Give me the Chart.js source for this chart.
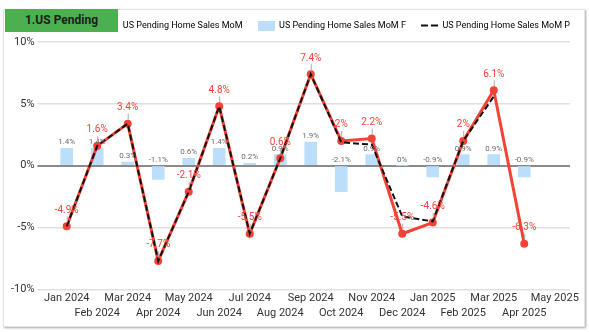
<!DOCTYPE html>
<html>
<head>
<meta charset="utf-8">
<script src="https://cdn.jsdelivr.net/npm/chart.js@4/dist/chart.umd.min.js"></script>
<style>
  html, body { margin: 0; padding: 0; background: #ffffff; }
  #wrap { position: relative; width: 589px; height: 332px; overflow: hidden; font-family: Roboto, sans-serif; }
  #card { position: absolute; left: 3px; top: 9px; width: 580px; height: 316px; border: 1px solid #e4e4e4; box-shadow: 1px 1px 2px rgba(0,0,0,0.35); background: #fff; }
  #cv { position: absolute; left: 0; top: 0; }
  #badge { position: absolute; left: 5px; top: 9px; width: 113px; height: 23px; background: #4caf50; color: #1d1d1d; font: bold 12px Roboto, sans-serif; line-height: 23px; text-align: center; }
</style>
</head>
<body>
<div id="wrap">
  <div id="card"></div>
  <canvas id="cv" width="589" height="332"></canvas>
  <div id="badge">1.US Pending</div>
</div>
<script>
const categories = ['Jan 2024','Feb 2024','Mar 2024','Apr 2024','May 2024','Jun 2024','Jul 2024','Aug 2024','Sep 2024','Oct 2024','Nov 2024','Dec 2024','Jan 2025','Feb 2025','Mar 2025','Apr 2025','May 2025'];
const momActual = [-4.9, 1.6, 3.4, -7.7, -2.1, 4.8, -5.5, 0.6, 7.4, 2, 2.2, -5.5, -4.6, 2, 6.1, -6.3, null];
const momForecast = [1.4, 1.4, 0.3, -1.1, 0.6, 1.4, 0.2, 0.9, 1.9, -2.1, 0.9, 0, -0.9, 0.9, 0.9, -0.9, null];
const momPrior = [-4.9, 1.6, 3.4, -7.7, -2.1, 4.8, -5.5, 0.6, 7.4, 1.9, 1.7, -4.1, -4.5, 2.0, 5.6, null, null];
const yTicks = [-10, -5, 0, 5, 10];
const seriesNames = ['US Pending Home Sales MoM', 'US Pending Home Sales MoM F', 'US Pending Home Sales MoM P'];

const RED = '#f44336';
const BLUE = '#bbdefb';
const LEGEND_PAD = 15;

function swatch(kind) {
  const c = document.createElement('canvas');
  c.width = 17; c.height = 10;
  const g = c.getContext('2d');
  if (kind === 'line') {
    g.fillStyle = RED; g.fillRect(0, 4, 17, 2);
  } else if (kind === 'box') {
    g.fillStyle = BLUE; g.fillRect(0, 0, 17, 10);
  } else {
    g.fillStyle = '#111'; g.fillRect(0, 4, 7, 2); g.fillRect(10, 4, 7, 2);
  }
  return c;
}
const swatches = [swatch('line'), swatch('box'), swatch('dash')];

const legendShift = {
  id: 'legendShift',
  beforeDraw(chart) {
    const lg = chart.legend;
    if (lg && !lg._shifted) {
      lg.left += LEGEND_PAD; lg.right += LEGEND_PAD;
      lg.top -= 2; lg.bottom -= 2;
      lg._shifted = true;
    }
  }
};

const labelPlugin = {
  id: 'valueLabels',
  afterDatasetsDraw(chart) {
    const ctx = chart.ctx;
    const ys = chart.scales.y;
    ctx.save();
    ctx.textAlign = 'center';
    ctx.textBaseline = 'middle';
    const barMeta = chart.getDatasetMeta(0);
    ctx.font = '8px Roboto, sans-serif';
    ctx.fillStyle = '#6b6b6b';
    barMeta.data.forEach((el, i) => {
      const v = momForecast[i];
      if (v === null || v === undefined) return;
      const top = ys.getPixelForValue(Math.max(v, 0));
      ctx.fillText(v + '%', el.x, top - 6);
    });
    const lineMeta = chart.getDatasetMeta(1);
    lineMeta.data.forEach((el, i) => {
      const v = momActual[i];
      if (v === null || v === undefined) return;
      ctx.strokeStyle = '#aaaaaa';
      ctx.lineWidth = 1;
      ctx.beginPath();
      ctx.moveTo(el.x + 0.5, el.y - 10);
      ctx.lineTo(el.x + 0.5, el.y - 4);
      ctx.stroke();
      ctx.font = '10px Roboto, sans-serif';
      ctx.fillStyle = RED;
      ctx.fillText(v + '%', el.x, el.y - 16);
    });
    ctx.restore();
  }
};

new Chart(document.getElementById('cv'), {
  data: {
    labels: categories,
    datasets: [
      { type: 'bar', label: seriesNames[1], data: momForecast, backgroundColor: BLUE, barThickness: 12, order: 3 },
      { type: 'line', label: seriesNames[0], data: momActual, borderColor: RED, backgroundColor: RED, borderWidth: 3, pointRadius: 4, pointBackgroundColor: RED, pointBorderWidth: 0, tension: 0, order: 2 },
      { type: 'line', label: seriesNames[2], data: momPrior, borderColor: '#111', borderWidth: 2, borderDash: [6, 3], pointRadius: 0, tension: 0, order: 1 }
    ]
  },
  options: {
    responsive: false,
    animation: false,
    layout: { padding: { left: 8, right: 19, top: 8, bottom: 10 } },
    plugins: {
      tooltip: { enabled: false },
      legend: {
        position: 'top',
        align: 'end',
        labels: {
          usePointStyle: true,
          pointStyleWidth: 17,
          boxHeight: 10,
          padding: LEGEND_PAD,
          color: '#333',
          font: { family: 'Roboto', size: 9 },
          generateLabels() {
            return seriesNames.map((n, i) => ({ text: n, pointStyle: swatches[i], fillStyle: 'transparent', strokeStyle: 'transparent', lineWidth: 0, datasetIndex: i === 0 ? 1 : (i === 1 ? 0 : 2) }));
          }
        }
      }
    },
    scales: {
      x: {
        offset: true,
        grid: { display: false, drawTicks: false },
        border: { display: false },
        ticks: {
          autoSkip: false,
          maxRotation: 0,
          minRotation: 0,
          color: '#333',
          padding: 2,
          font: { family: 'Roboto', size: 11, lineHeight: 1.3 },
          callback(val, i) { const l = categories[i]; return i % 2 === 0 ? [l, ''] : ['', l]; }
        }
      },
      y: {
        min: -10, max: 10,
        afterBuildTicks(scale) { scale.ticks = yTicks.map(v => ({ value: v })); },
        border: { display: false },
        grid: {
          drawTicks: true,
          tickLength: 14,
          color: ctx => (ctx.tick && ctx.tick.value === 0) ? '#8a8a8a' : '#e0e0e0',
          lineWidth: ctx => (ctx.tick && ctx.tick.value === 0) ? 2 : 1.5
        },
        ticks: {
          color: '#333',
          padding: 3,
          font: { family: 'Roboto', size: 11 },
          callback: v => v + '%'
        }
      }
    }
  },
  plugins: [legendShift, labelPlugin]
});
</script>
</body>
</html>
